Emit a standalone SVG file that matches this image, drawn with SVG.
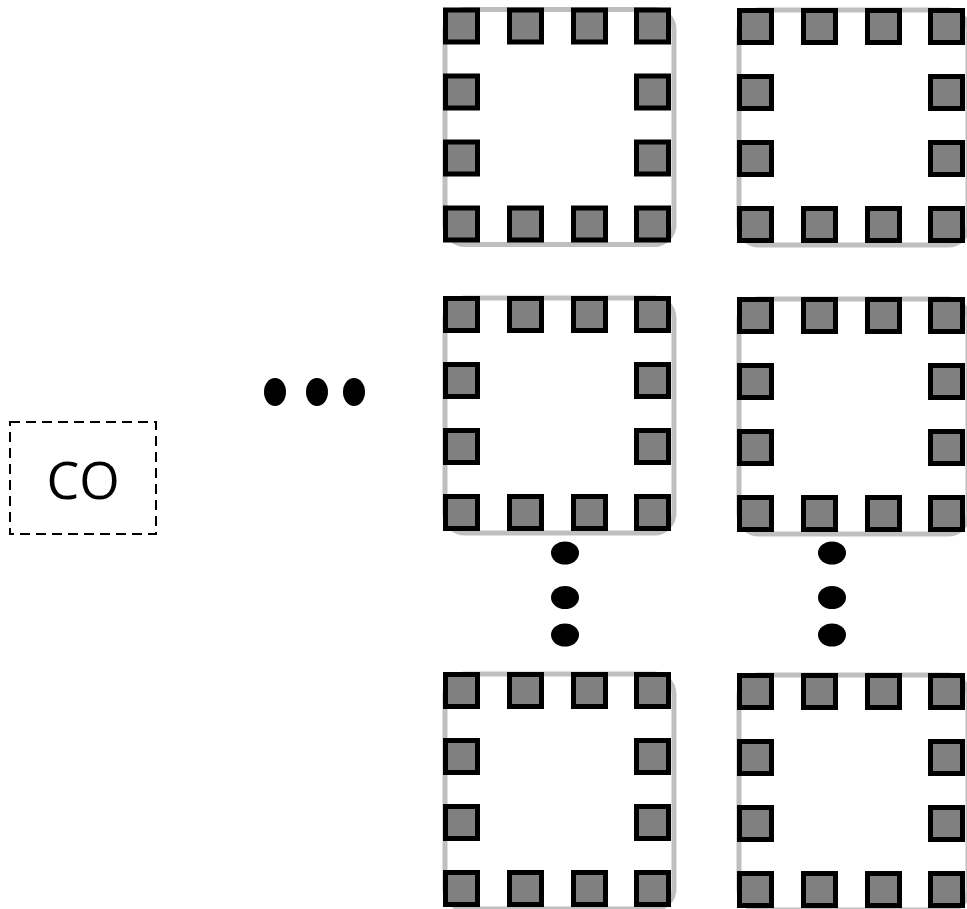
<svg xmlns="http://www.w3.org/2000/svg" width="967" height="909" viewBox="0 0 967 909">
<style>
.frame{fill:#ffffff;stroke:#bfbfbf;stroke-width:5}
.pin{fill:#808080;stroke:#000000;stroke-width:5}
.dot{fill:#000000}
.co{fill:none;stroke:#000000;stroke-width:2;stroke-dasharray:10 6}
.lbl{font-family:"Open Sans","Liberation Sans",sans-serif;font-size:52px;fill:#000000}
</style>
<defs>
<g id="tile">
<rect class="frame" x="2" y="2" width="229" height="235" rx="20"/>
<rect class="pin" x="2.5" y="2.5" width="32" height="32"/>
<rect class="pin" x="66.5" y="2.5" width="32" height="32"/>
<rect class="pin" x="130.5" y="2.5" width="32" height="32"/>
<rect class="pin" x="193.5" y="2.5" width="32" height="32"/>
<rect class="pin" x="2.5" y="68.5" width="32" height="32"/>
<rect class="pin" x="193.5" y="68.5" width="32" height="32"/>
<rect class="pin" x="2.5" y="134.5" width="32" height="32"/>
<rect class="pin" x="193.5" y="134.5" width="32" height="32"/>
<rect class="pin" x="2.5" y="200.5" width="32" height="32"/>
<rect class="pin" x="66.5" y="200.5" width="32" height="32"/>
<rect class="pin" x="130.5" y="200.5" width="32" height="32"/>
<rect class="pin" x="193.5" y="200.5" width="32" height="32"/>
</g>
</defs>
<g id="tile-r1c1" transform="translate(443,7.5)"><use href="#tile"/></g>
<g id="tile-r1c2" transform="translate(737,8)"><use href="#tile"/></g>
<g id="tile-r2c1" transform="translate(443,296)"><use href="#tile"/></g>
<g id="tile-r2c2" transform="translate(737,297)"><use href="#tile"/></g>
<g id="tile-r3c1" transform="translate(443,672)"><use href="#tile"/></g>
<g id="tile-r3c2" transform="translate(737,673)"><use href="#tile"/></g>
<g id="co">
<rect class="co" x="10" y="422" width="146" height="112"/>
<text class="lbl" x="83" y="499" text-anchor="middle">CO</text>
</g>
<g id="ellipsis-h">
<ellipse class="dot" cx="275" cy="392" rx="11" ry="14"/>
<ellipse class="dot" cx="317" cy="392" rx="11" ry="14"/>
<ellipse class="dot" cx="354" cy="392" rx="11" ry="14"/>
</g>
<g id="ellipsis-v1">
<ellipse class="dot" cx="565" cy="553" rx="14" ry="11.5"/>
<ellipse class="dot" cx="565" cy="597.5" rx="14" ry="11.5"/>
<ellipse class="dot" cx="565" cy="635" rx="14" ry="11.5"/>
</g>
<g id="ellipsis-v2">
<ellipse class="dot" cx="832" cy="553" rx="14" ry="11.5"/>
<ellipse class="dot" cx="832" cy="597.5" rx="14" ry="11.5"/>
<ellipse class="dot" cx="832" cy="635" rx="14" ry="11.5"/>
</g>
<g id="connectors"></g>
</svg>
